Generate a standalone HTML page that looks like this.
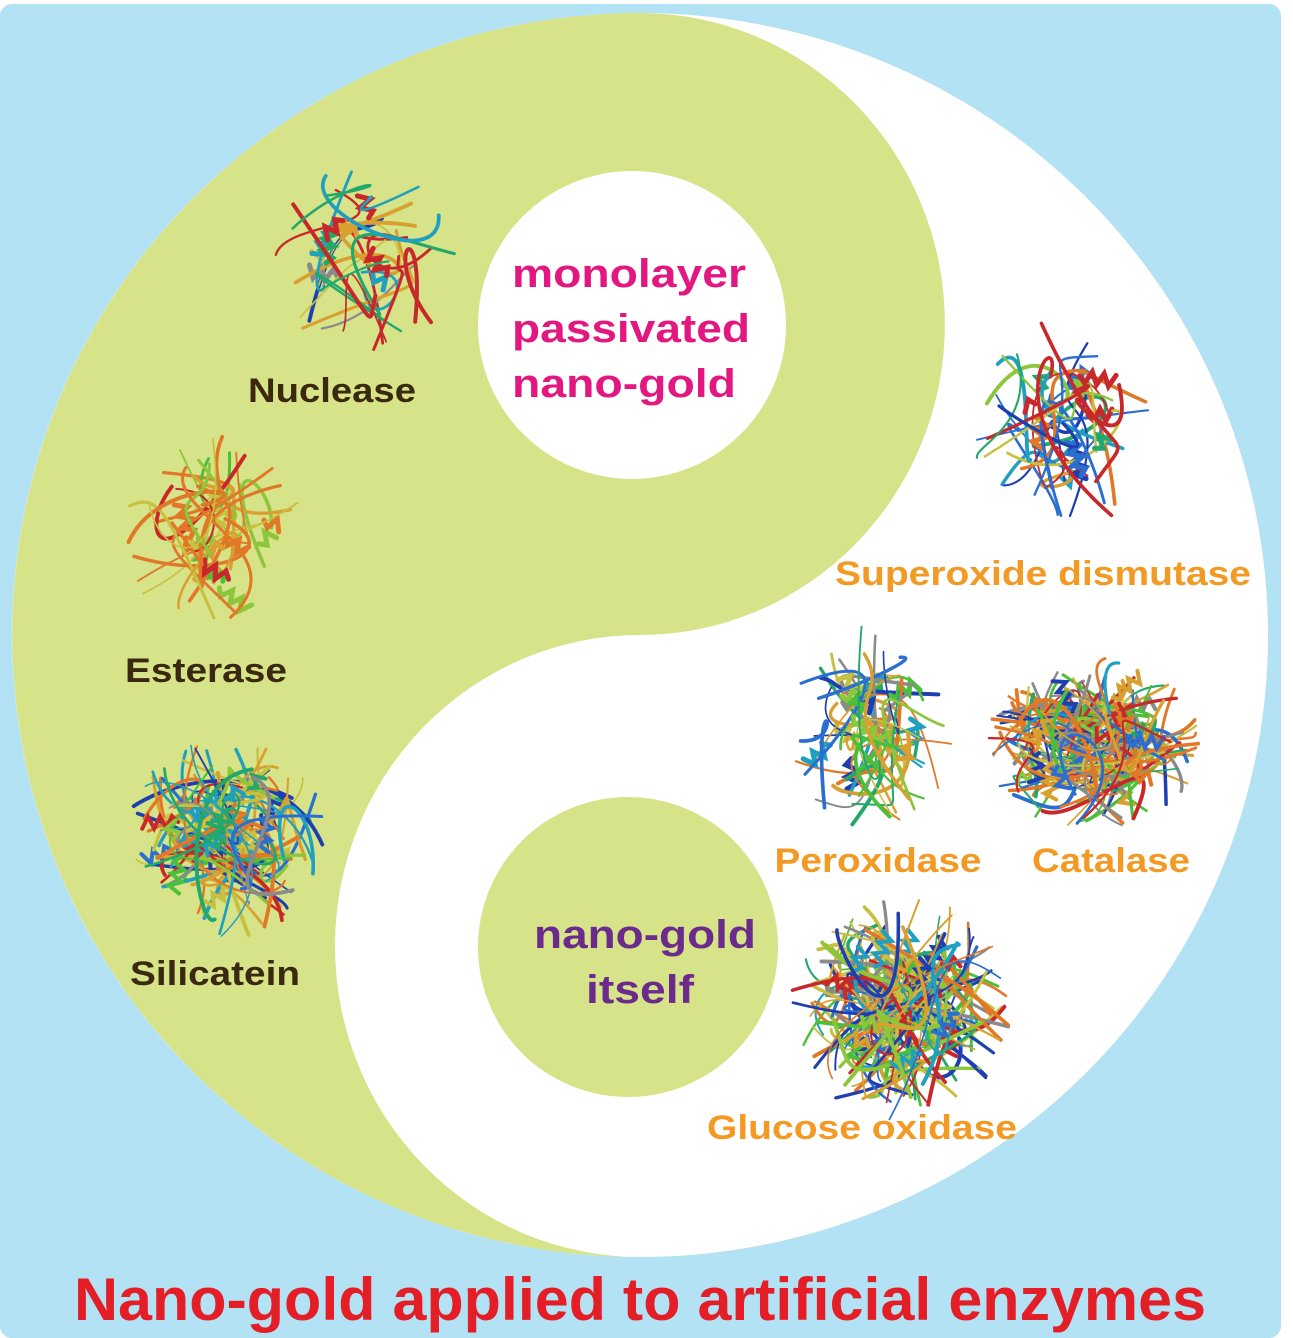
<!DOCTYPE html>
<html><head><meta charset="utf-8"><style>
html,body{margin:0;padding:0;background:#fff;}
svg{display:block}
text{font-family:"Liberation Sans",Arial,sans-serif;font-weight:bold}
</style></head><body>
<svg id="s" width="1293" height="1338" viewBox="0 0 1293 1338" xmlns="http://www.w3.org/2000/svg">
<rect x="0" y="4" width="1281" height="1334" rx="12" fill="#b4e2f5"/>
<ellipse cx="640" cy="635" rx="628" ry="622" fill="#ffffff"/>
<path d="M640 13 A628 622 0 0 0 640 1257 A305 311 0 0 1 640 635 A305 311 0 0 0 640 13 Z" fill="#d7e388"/>
<circle cx="632" cy="325" r="154" fill="#ffffff"/>
<circle cx="628" cy="947" r="150" fill="#d7e388"/>
<g id="prot"></g>
<text x="332" y="402" font-size="34" fill="#3a2810" text-anchor="middle" textLength="168" lengthAdjust="spacingAndGlyphs">Nuclease</text>
<text x="206" y="682" font-size="34" fill="#3a2810" text-anchor="middle" textLength="162" lengthAdjust="spacingAndGlyphs">Esterase</text>
<text x="215" y="985" font-size="34" fill="#3a2810" text-anchor="middle" textLength="170" lengthAdjust="spacingAndGlyphs">Silicatein</text>
<text x="512" y="287" font-size="40" fill="#e2177f" textLength="234" lengthAdjust="spacingAndGlyphs">monolayer</text>
<text x="512" y="342" font-size="40" fill="#e2177f" textLength="238" lengthAdjust="spacingAndGlyphs">passivated</text>
<text x="512" y="397" font-size="40" fill="#e2177f" textLength="224" lengthAdjust="spacingAndGlyphs">nano-gold</text>
<text x="645" y="948" font-size="40" fill="#6b2b8c" text-anchor="middle" textLength="222" lengthAdjust="spacingAndGlyphs">nano-gold</text>
<text x="640" y="1003" font-size="40" fill="#6b2b8c" text-anchor="middle" textLength="108" lengthAdjust="spacingAndGlyphs">itself</text>
<text x="1043" y="585" font-size="34" fill="#f39a24" text-anchor="middle" textLength="416" lengthAdjust="spacingAndGlyphs">Superoxide dismutase</text>
<text x="878" y="872" font-size="34" fill="#f39a24" text-anchor="middle" textLength="207" lengthAdjust="spacingAndGlyphs">Peroxidase</text>
<text x="1111" y="872" font-size="34" fill="#f39a24" text-anchor="middle" textLength="158" lengthAdjust="spacingAndGlyphs">Catalase</text>
<text x="862" y="1139" font-size="34" fill="#f39a24" text-anchor="middle" textLength="310" lengthAdjust="spacingAndGlyphs">Glucose oxidase</text>
<text x="640" y="1320" font-size="60" fill="#e41e26" text-anchor="middle" textLength="1132" lengthAdjust="spacingAndGlyphs">Nano-gold applied to artificial enzymes</text>
</svg>
<script>
(function(){
var seed=7;function r(){seed=(seed*16807)%2147483647;return (seed-1)/2147483646;}
var pal=["#1f3fb0","#2a6fd0","#20a0c0","#22a86a","#4cbf3a","#8cc63a","#c8c040","#d8a030","#e07828","#c8282a","#8a8a8a"];
var g=document.getElementById("prot"),ns="http://www.w3.org/2000/svg";
function P(d,c,w){var p=document.createElementNS(ns,"path");p.setAttribute("d",d);p.setAttribute("stroke",c);p.setAttribute("stroke-width",w);p.setAttribute("fill","none");p.setAttribute("stroke-linecap","round");g.appendChild(p);}
function blob(x0,y0,x1,y1,n,dense,cols){
 var cx=(x0+x1)/2,cy=(y0+y1)/2,rx=(x1-x0)/2,ry=(y1-y0)/2;
 function pt(f){f=f||1;var a=r()*6.283,d=Math.sqrt(r())*f;return [cx+Math.cos(a)*rx*d,cy+Math.sin(a)*ry*d];}
 for(var i=0;i<n;i++){
  var c=cols?cols[Math.floor(r()*cols.length)]:pal[Math.floor(r()*pal.length)];
  var a=pt(),b=pt(),c1=pt(),c2=pt();
  P("M"+a+" C"+c1+" "+c2+" "+b,c,1.5+r()*2.5);
  if(r()<0.45){
   var h=pt(0.55),ang=r()*6.28,L=16+r()*26,s="M"+h;var k=Math.floor(L/6);
   for(var j=1;j<=k;j++){var t=j*6;var px=h[0]+Math.cos(ang)*t,py=h[1]+Math.sin(ang)*t;var o=(j%2?6:-6);s+=" L"+(px-Math.sin(ang)*o)+","+(py+Math.cos(ang)*o);}
   P(s,c,dense?4:5);
  }
 }
}
blob(272,165,455,360,22,0,["#c8282a","#d8a030","#c8c040","#22a86a","#4cbf3a","#1f3fb0","#20a0c0","#8a8a8a"]);
blob(122,435,310,640,24,0,["#c8282a","#d8a030","#c8c040","#22a86a","#4cbf3a","#1f3fb0","#e07828","#8cc63a"]);
blob(125,735,325,940,60,1);
blob(970,320,1150,535,28,0);
blob(790,625,955,835,34,0);
blob(985,655,1200,830,90,1);
blob(790,895,1010,1120,90,1);
})();
</script>
</body></html>
